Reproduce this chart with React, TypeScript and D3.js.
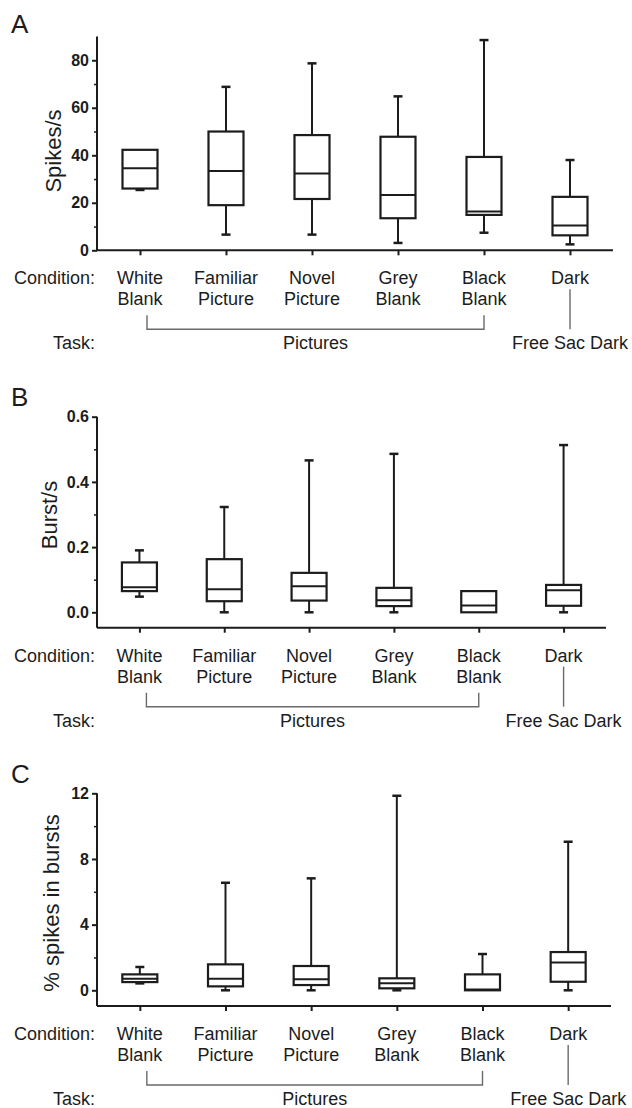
import React, { useEffect, useRef } from 'react'
import * as d3 from 'd3'

// conditions on the x axis (two lines each, except Dark)
const conditions = ['White Blank', 'Familiar Picture', 'Novel Picture', 'Grey Blank', 'Black Blank', 'Dark']
const conditionLines = [
    ['White', 'Blank'],
    ['Familiar', 'Picture'],
    ['Novel', 'Picture'],
    ['Grey', 'Blank'],
    ['Black', 'Blank'],
    ['Dark'],
]
const pictureTask = 'Pictures'
const darkTask = 'Free Sac Dark'

// box values per condition: [min, q1, median, q3, max]
const spikesPerSec = [
    [25.4, 26.0, 34.5, 42.3, 42.3],
    [6.6, 19.0, 33.4, 50.0, 68.8],
    [6.6, 21.6, 32.3, 48.5, 78.7],
    [3.1, 13.5, 23.3, 47.8, 64.8],
    [7.4, 14.9, 16.3, 39.3, 88.5],
    [2.5, 6.3, 10.4, 22.5, 38.0],
]
const burstsPerSec = [
    [0.048, 0.065, 0.077, 0.153, 0.19],
    [0.0, 0.034, 0.071, 0.163, 0.323],
    [0.0, 0.036, 0.08, 0.121, 0.466],
    [0.0, 0.019, 0.037, 0.075, 0.486],
    [0.0, 0.0, 0.021, 0.065, 0.065],
    [0.0, 0.02, 0.068, 0.084, 0.513],
]
const pctSpikesInBursts = [
    [0.42, 0.5, 0.7, 0.97, 1.42],
    [0.0, 0.24, 0.71, 1.58, 6.55],
    [0.0, 0.32, 0.67, 1.48, 6.82],
    [0.0, 0.12, 0.43, 0.73, 11.85],
    [0.0, 0.0, 0.05, 0.97, 2.21],
    [0.0, 0.52, 1.7, 2.33, 9.05],
]

const spikesTicks = [0, 20, 40, 60, 80]
const spikesMinor = [10, 30, 50, 70]
const burstTicks = [0, 0.2, 0.4, 0.6]
const burstMinor = [0.1, 0.3, 0.5]
const pctTicks = [0, 4, 8, 12]
const pctMinor = [2, 6, 10]

const W = 632
const H = 1108
const FONT = '"Liberation Sans", Arial, Helvetica, sans-serif'
const INK = '#1c1c1c'
const LABEL_SIZE = 18

const panels = [
    {
        letter: 'A', letterY: 33, title: 'Spikes/s', titleX: 61, titleY: 151,
        data: spikesPerSec, yMax: 90, ticks: spikesTicks, minor: spikesMinor, fmt: d3.format('d'),
        zeroY: 250.3, topY: 36.5, axisY: 250.3, left: 97, right: 613,
    },
    {
        letter: 'B', letterY: 406, title: 'Burst/s', titleX: 57, titleY: 515,
        data: burstsPerSec, yMax: 0.6, ticks: burstTicks, minor: burstMinor, fmt: d3.format('.1f'),
        zeroY: 612.3, topY: 416.7, axisY: 627.7, left: 97, right: 606,
    },
    {
        letter: 'C', letterY: 783, title: '% spikes in bursts', titleX: 59, titleY: 903,
        data: pctSpikesInBursts, yMax: 12, ticks: pctTicks, minor: pctMinor, fmt: d3.format('d'),
        zeroY: 990.3, topY: 793.3, axisY: 1006, left: 97, right: 611,
    },
]

const App: React.FC = () => {
    const svgRef = useRef<SVGSVGElement | null>(null)

    useEffect(() => {
        if (!svgRef.current) return
        const svg = d3.select(svgRef.current)
        svg.selectAll('*').remove()

        panels.forEach((p) => {
            const g = svg.append('g')
            const x = d3.scalePoint<string>().domain(conditions).range([p.left, p.right]).padding(0.5)
            const y = d3.scaleLinear().domain([0, p.yMax]).range([p.zeroY, p.topY])

            // panel letter and y title
            g.append('text')
                .attr('x', 11).attr('y', p.letterY)
                .attr('font-size', 26).attr('font-family', FONT).attr('fill', INK)
                .text(p.letter)
            g.append('text')
                .attr('transform', `translate(${p.titleX},${p.titleY}) rotate(-90)`)
                .attr('text-anchor', 'middle')
                .attr('font-size', 22).attr('font-family', FONT).attr('fill', INK)
                .text(p.title)

            // y axis
            g.append('line')
                .attr('x1', p.left).attr('x2', p.left)
                .attr('y1', y(p.yMax)).attr('y2', p.axisY)
                .attr('stroke', INK).attr('stroke-width', 2)
            const major = g.append('g')
                .attr('transform', `translate(${p.left},0)`)
                .call(d3.axisLeft(y).tickValues(p.ticks).tickSize(5).tickSizeOuter(0).tickFormat((d) => p.fmt(d as number)))
            major.select('.domain').remove()
            major.selectAll('line').attr('stroke', INK).attr('stroke-width', 2)
            major.selectAll('text')
                .attr('font-size', 16).attr('font-weight', 'bold').attr('font-family', FONT).attr('fill', INK)
                .attr('x', -8)
            const minor = g.append('g')
                .attr('transform', `translate(${p.left},0)`)
                .call(d3.axisLeft(y).tickValues(p.minor).tickSize(3).tickSizeOuter(0).tickFormat(() => ''))
            minor.select('.domain').remove()
            minor.selectAll('line').attr('stroke', INK).attr('stroke-width', 1.5)

            // x axis
            g.append('line')
                .attr('x1', p.left).attr('x2', p.right)
                .attr('y1', p.axisY).attr('y2', p.axisY)
                .attr('stroke', INK).attr('stroke-width', 2)
            const xa = g.append('g')
                .attr('transform', `translate(0,${p.axisY})`)
                .call(d3.axisBottom(x).tickSize(5).tickSizeOuter(0).tickFormat(() => ''))
            xa.select('.domain').remove()
            xa.selectAll('line').attr('stroke', INK).attr('stroke-width', 2)

            // boxes
            const boxW = 35
            const capW = 9
            const boxes = g.selectAll('g.box')
                .data(p.data.map((v, i) => ({ key: conditions[i], v })))
                .join('g')
                .attr('class', 'box')
                .attr('transform', (d) => `translate(${x(d.key)},0)`)
                .attr('stroke', INK)
                .attr('fill', 'none')
            boxes.filter((d) => d.v[4] > d.v[3]).append('line')
                .attr('y1', (d) => y(d.v[3])).attr('y2', (d) => y(d.v[4]))
                .attr('stroke-width', 2)
            boxes.filter((d) => d.v[4] > d.v[3]).append('line')
                .attr('x1', -capW / 2).attr('x2', capW / 2)
                .attr('y1', (d) => y(d.v[4])).attr('y2', (d) => y(d.v[4]))
                .attr('stroke-width', 2.5)
            boxes.filter((d) => d.v[1] > d.v[0]).append('line')
                .attr('y1', (d) => y(d.v[1])).attr('y2', (d) => y(d.v[0]))
                .attr('stroke-width', 2)
            boxes.filter((d) => d.v[1] > d.v[0]).append('line')
                .attr('x1', -capW / 2).attr('x2', capW / 2)
                .attr('y1', (d) => y(d.v[0])).attr('y2', (d) => y(d.v[0]))
                .attr('stroke-width', 2.5)
            boxes.append('rect')
                .attr('x', -boxW / 2).attr('width', boxW)
                .attr('y', (d) => y(d.v[3]))
                .attr('height', (d) => y(d.v[1]) - y(d.v[3]))
                .attr('fill', '#fff')
                .attr('stroke-width', 2.2)
            boxes.append('line')
                .attr('x1', -boxW / 2).attr('x2', boxW / 2)
                .attr('y1', (d) => y(d.v[2])).attr('y2', (d) => y(d.v[2]))
                .attr('stroke-width', 2)

            // condition labels
            const labelY = p.axisY + 34
            g.append('text')
                .attr('x', p.left - 2).attr('y', labelY)
                .attr('text-anchor', 'end')
                .attr('font-size', LABEL_SIZE).attr('font-family', FONT).attr('fill', INK)
                .text('Condition:')
            conditionLines.forEach((lines, i) => {
                const t = g.append('text')
                    .attr('text-anchor', 'middle')
                    .attr('font-size', LABEL_SIZE).attr('font-family', FONT).attr('fill', INK)
                lines.forEach((s, j) => {
                    t.append('tspan').attr('x', x(conditions[i]) as number).attr('y', labelY + j * 21).text(s)
                })
            })

            // task bracket
            const bx0 = (x(conditions[0]) as number) + 7
            const bx1 = x(conditions[4]) as number
            const by = p.axisY + 79
            g.append('path')
                .attr('d', `M${bx0},${by - 14}V${by}H${bx1}V${by - 14}`)
                .attr('fill', 'none').attr('stroke', '#6a6a6a').attr('stroke-width', 1.4)
            const dx = x(conditions[5]) as number
            g.append('line')
                .attr('x1', dx).attr('x2', dx)
                .attr('y1', p.axisY + 39).attr('y2', by)
                .attr('stroke', '#6a6a6a').attr('stroke-width', 1.4)

            const taskY = p.axisY + 99
            g.append('text')
                .attr('x', p.left - 2).attr('y', taskY)
                .attr('text-anchor', 'end')
                .attr('font-size', LABEL_SIZE).attr('font-family', FONT).attr('fill', INK)
                .text('Task:')
            g.append('text')
                .attr('x', (bx0 + bx1) / 2).attr('y', taskY)
                .attr('text-anchor', 'middle')
                .attr('font-size', LABEL_SIZE).attr('font-family', FONT).attr('fill', INK)
                .text(pictureTask)
            g.append('text')
                .attr('x', dx).attr('y', taskY)
                .attr('text-anchor', 'middle')
                .attr('font-size', LABEL_SIZE).attr('font-family', FONT).attr('fill', INK)
                .text(darkTask)
        })
    }, [])

    return (
        <svg
            ref={svgRef}
            width={W}
            height={H}
            viewBox={`0 0 ${W} ${H}`}
            style={{ position: 'absolute', left: 0, top: 0, background: '#fff' }}
        />
    )
}

export default App
